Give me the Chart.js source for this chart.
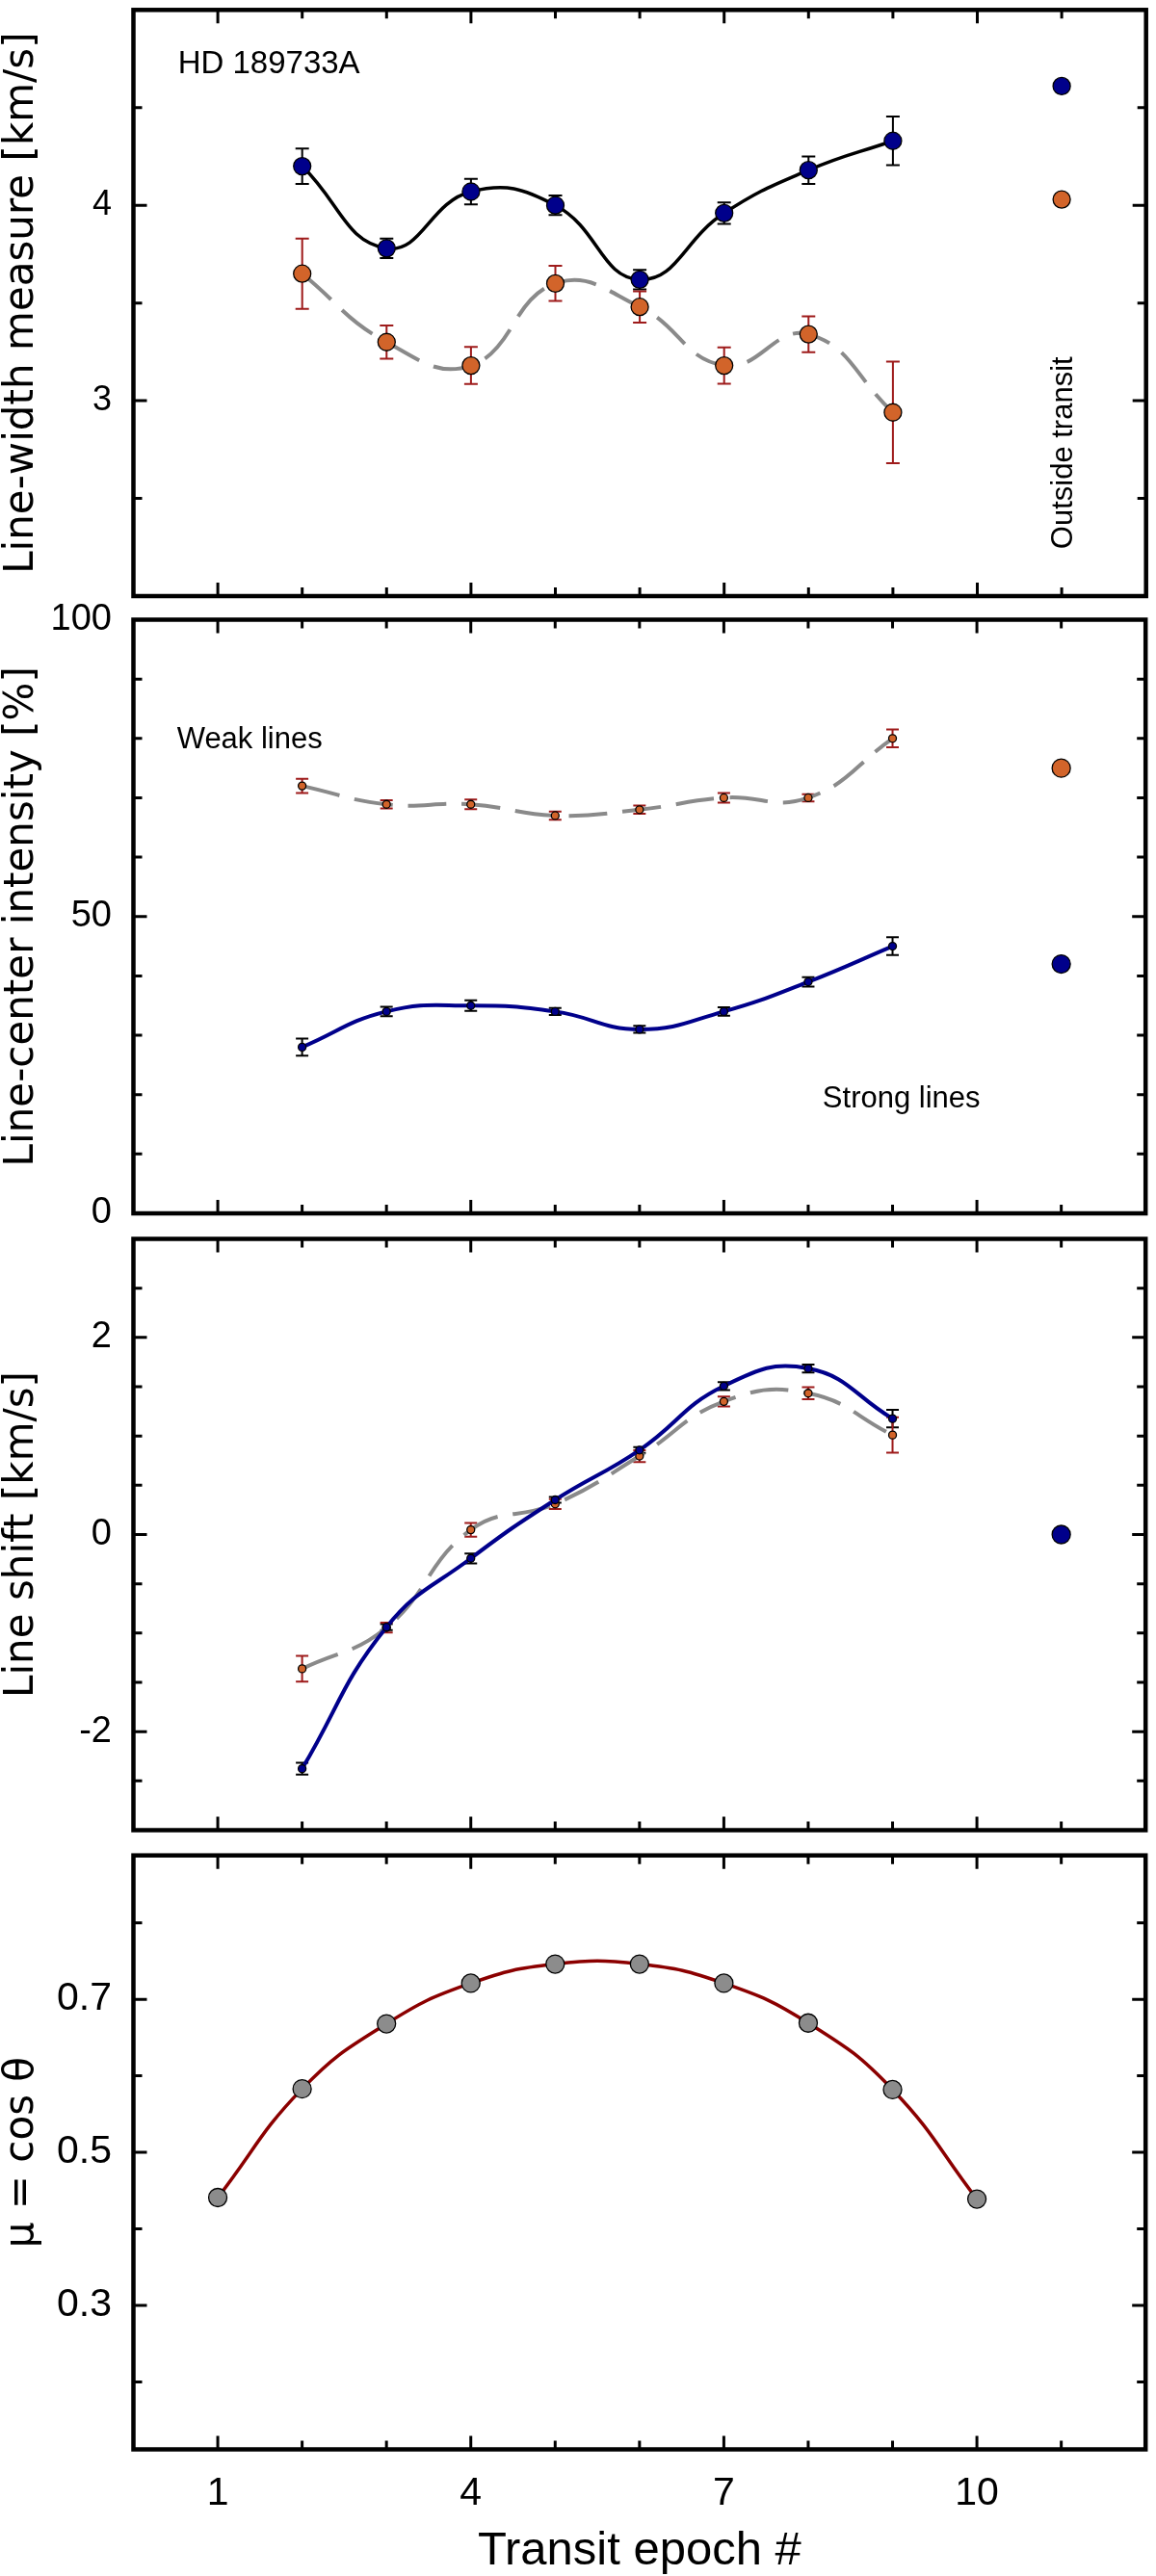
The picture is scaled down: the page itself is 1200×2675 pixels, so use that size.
<!DOCTYPE html>
<html>
<head>
<meta charset="utf-8">
<script src="https://cdn.jsdelivr.net/npm/chart.js@4.4.1/dist/chart.umd.min.js"></script>
<style>
  body { margin: 0; background: #fff; width: 1200px; height: 2675px; position: relative; overflow: hidden; }
  .panel { position: absolute; left: 0; width: 1200px; }
</style>
</head>
<body>
<div class="panel" style="top:0;height:632px"><canvas id="width"></canvas></div>
<div class="panel" style="top:622px;height:650px"><canvas id="intensity"></canvas></div>
<div class="panel" style="top:1272px;height:640px"><canvas id="shift"></canvas></div>
<div class="panel" style="top:1910px;height:765px"><canvas id="mu"></canvas></div>
<script>
// transit epochs with measurements, and the "outside transit" slot
const epochs = [2, 3, 4, 5, 6, 7, 8, 9];
const outsideEpoch = [11];
const muEpochs = [1, 2, 3, 4, 5, 6, 7, 8, 9, 10];

// line-width measure [km/s]
const widthStrong = [4.20, 3.78, 4.07, 4.00, 3.62, 3.96, 4.18, 4.33];
const widthStrongErr = [0.09, 0.05, 0.065, 0.05, 0.05, 0.055, 0.07, 0.125];
const widthWeak = [3.65, 3.30, 3.18, 3.60, 3.48, 3.18, 3.34, 2.94];
const widthWeakErr = [0.18, 0.085, 0.095, 0.09, 0.08, 0.093, 0.092, 0.26];
const widthOutsideStrong = [4.61];
const widthOutsideWeak = [4.03];

// line-center intensity [%]
const intensityStrong = [28.0, 34.0, 35.0, 34.0, 31.0, 34.0, 39.0, 45.0];
const intensityStrongErr = [1.45, 0.8, 0.9, 0.6, 0.6, 0.7, 0.8, 1.5];
const intensityWeak = [72.0, 68.9, 68.9, 67.0, 68.0, 70.0, 70.0, 80.0];
const intensityWeakErr = [1.2, 0.7, 0.8, 0.7, 0.7, 0.8, 0.6, 1.5];
const intensityOutsideStrong = [42.0];
const intensityOutsideWeak = [75.0];

// line shift [km/s]
const shiftStrong = [-2.376, -0.94, -0.242, 0.352, 0.857, 1.507, 1.685, 1.176];
const shiftStrongErr = [0.06, 0.03, 0.05, 0.03, 0.03, 0.04, 0.04, 0.09];
const shiftWeak = [-1.362, -0.945, 0.048, 0.31, 0.796, 1.35, 1.434, 1.01];
const shiftWeakErr = [0.13, 0.05, 0.07, 0.05, 0.06, 0.05, 0.06, 0.18];
const shiftOutsideStrong = [0.0];

// mu = cos theta
const mu = [0.441, 0.583, 0.668, 0.721, 0.746, 0.746, 0.721, 0.669, 0.582, 0.439];

// labelled ticks
const xTickLabels = [1, 4, 7, 10];
const widthTickLabels = [3, 4];
const intensityTickLabels = [0, 50, 100];
const shiftTickLabels = [-2, 0, 2];
const muTickLabels = [0.3, 0.5, 0.7];

const BLUE = '#00008b';
const ORANGE = '#d2642a';
const GREY = '#8a8a8a';
const ERR_RED = '#9e1b1b';
const SANS = '"Liberation Sans", Arial, sans-serif';

function pts(xs, ys) {
    return xs.map((x, i) => ({ x: x, y: ys[i] }));
}

function hasLabel(list, v) {
    return list.some(t => Math.abs(t - v) < 1e-6);
}

// error bars under the marks, inward ticks, frame and text on top
function makeFrame(yLabels, notes) {
    return {
        id: 'frame',
        beforeDatasetsDraw(chart) {
            const ctx = chart.ctx;
            const ys = chart.scales.y;
            chart.data.datasets.forEach((ds, i) => {
                if (!ds.errors) return;
                const meta = chart.getDatasetMeta(i);
                ctx.save();
                ctx.strokeStyle = ds.errorColor;
                ctx.lineWidth = 2;
                ctx.beginPath();
                meta.data.forEach((p, j) => {
                    const v = ds.data[j].y;
                    const e = ds.errors[j];
                    const y1 = ys.getPixelForValue(v - e);
                    const y2 = ys.getPixelForValue(v + e);
                    const c = ds.capHalf;
                    ctx.moveTo(p.x, y1); ctx.lineTo(p.x, y2);
                    ctx.moveTo(p.x - c, y1); ctx.lineTo(p.x + c, y1);
                    ctx.moveTo(p.x - c, y2); ctx.lineTo(p.x + c, y2);
                });
                ctx.stroke();
                ctx.restore();
            });
        },
        afterDraw(chart) {
            const ctx = chart.ctx;
            const a = chart.chartArea;
            const xs = chart.scales.x;
            const ys = chart.scales.y;
            ctx.save();
            notes.forEach(n => {
                ctx.save();
                ctx.font = n.size + 'px ' + SANS;
                ctx.fillStyle = '#000';
                ctx.translate(xs.getPixelForValue(n.x), ys.getPixelForValue(n.y));
                if (n.rotate) ctx.rotate(-Math.PI / 2);
                ctx.textAlign = n.rotate ? 'center' : 'left';
                ctx.textBaseline = 'alphabetic';
                ctx.fillText(n.text, 0, 0);
                ctx.restore();
            });
            ctx.strokeStyle = '#000';
            ctx.lineWidth = 3;
            ctx.beginPath();
            xs.ticks.forEach(t => {
                const px = xs.getPixelForValue(t.value);
                const len = hasLabel(xTickLabels, t.value) ? 14 : 9;
                ctx.moveTo(px, a.bottom); ctx.lineTo(px, a.bottom - len);
                ctx.moveTo(px, a.top); ctx.lineTo(px, a.top + len);
            });
            ys.ticks.forEach(t => {
                const py = ys.getPixelForValue(t.value);
                const len = hasLabel(yLabels, t.value) ? 14 : 9;
                ctx.moveTo(a.left, py); ctx.lineTo(a.left + len, py);
                ctx.moveTo(a.right, py); ctx.lineTo(a.right - len, py);
            });
            ctx.stroke();
            ctx.lineWidth = 4.5;
            ctx.strokeRect(a.left, a.top, a.right - a.left, a.bottom - a.top);
            ctx.restore();
        }
    };
}

function panel(id, o) {
    return new Chart(document.getElementById(id), {
        type: 'line',
        data: { datasets: o.datasets },
        plugins: [makeFrame(o.yLabels, o.notes || [])],
        options: {
            responsive: true,
            maintainAspectRatio: false,
            animation: false,
            devicePixelRatio: 1,
            layout: { padding: o.padding },
            plugins: { legend: { display: false }, tooltip: { enabled: false } },
            elements: { line: { tension: 0.45 } },
            scales: {
                x: {
                    type: 'linear', min: 0, max: 12,
                    grid: { display: false, drawTicks: false },
                    border: { display: false },
                    ticks: {
                        stepSize: 1, autoSkip: false, maxRotation: 0,
                        display: !!o.showX, padding: 21.6, color: '#000',
                        font: { family: SANS, size: 41 },
                        callback: v => hasLabel(xTickLabels, v) ? String(v) : ''
                    },
                    title: {
                        display: !!o.showX, text: 'Transit epoch #', color: '#000',
                        font: { family: SANS, size: 49, lineHeight: 1 },
                        padding: { top: 0, bottom: 0.8 }
                    },
                    afterFit: s => {
                        s.height = o.xHeight || 0;
                        s.paddingLeft = 0;
                        s.paddingRight = 0;
                    }
                },
                y: {
                    type: 'linear', min: o.yMin, max: o.yMax,
                    grid: { display: false, drawTicks: false },
                    border: { display: false },
                    ticks: {
                        stepSize: o.yStep, includeBounds: false, autoSkip: false,
                        padding: 22.5, color: '#000',
                        font: { family: SANS, size: o.tickSize },
                        callback: v => hasLabel(o.yLabels, v) ? String(o.yLabels.find(t => Math.abs(t - v) < 1e-6)) : ''
                    },
                    title: {
                        display: true, text: o.title, color: '#000',
                        font: { family: '"DejaVu Sans", sans-serif', size: 42, lineHeight: 1 },
                        padding: { top: 2, bottom: 0 }
                    },
                    afterFit: s => {
                        s.width = 138.5;
                        s.paddingTop = 0;
                        s.paddingBottom = 0;
                    }
                }
            }
        }
    });
}

function series(xs, ys, color, line, radius, dash, lineWidth) {
    return {
        data: pts(xs, ys),
        showLine: !!line,
        borderColor: line || color,
        borderWidth: line ? (lineWidth || 3.5) : 0,
        borderDash: dash || [],
        pointRadius: radius,
        pointBackgroundColor: color,
        pointBorderColor: '#000',
        pointBorderWidth: 1.3,
        fill: false
    };
}

function withErr(ds, errs, color, cap) {
    ds.errors = errs;
    ds.errorColor = color;
    ds.capHalf = cap;
    return ds;
}

panel('width', {
    padding: { top: 1, bottom: 13, left: 0, right: 3 },
    yMin: 2, yMax: 5, yStep: 0.5, yLabels: widthTickLabels, tickSize: 36,
    title: 'Line-width measure [km/s]',
    notes: [
        { text: 'HD 189733A', x: 0.527, y: 4.675, size: 33 },
        { text: 'Outside transit', x: 11.13, y: 2.733, size: 31, rotate: true }
    ],
    datasets: [
        series(outsideEpoch, widthOutsideStrong, BLUE, null, 9),
        series(outsideEpoch, widthOutsideWeak, ORANGE, null, 9),
        withErr(series(epochs, widthStrong, BLUE, '#000', 9, null, 3.5), widthStrongErr, '#000', 7),
        withErr(series(epochs, widthWeak, ORANGE, GREY, 9, [40, 16], 4), widthWeakErr, ERR_RED, 7)
    ]
});

panel('intensity', {
    padding: { top: 21.5, bottom: 12, left: 0, right: 3 },
    yMin: 0, yMax: 100, yStep: 10, yLabels: intensityTickLabels, tickSize: 38,
    title: 'Line-center intensity [%]',
    notes: [
        { text: 'Weak lines', x: 0.516, y: 78.3, size: 31 },
        { text: 'Strong lines', x: 8.17, y: 17.8, size: 31 }
    ],
    datasets: [
        series(outsideEpoch, intensityOutsideStrong, BLUE, null, 9.5),
        series(outsideEpoch, intensityOutsideWeak, ORANGE, null, 9.5),
        withErr(series(epochs, intensityStrong, BLUE, BLUE, 4, null, 4), intensityStrongErr, '#000', 6.5),
        withErr(series(epochs, intensityWeak, ORANGE, GREY, 4, [40, 16], 4), intensityWeakErr, ERR_RED, 6.5)
    ]
});

panel('shift', {
    padding: { top: 14.5, bottom: 11.5, left: 0, right: 3 },
    yMin: -3, yMax: 3, yStep: 0.5, yLabels: shiftTickLabels, tickSize: 38,
    title: 'Line shift [km/s]',
    datasets: [
        series(outsideEpoch, shiftOutsideStrong, BLUE, null, 9.5),
        withErr(series(epochs, shiftStrong, BLUE, BLUE, 4, null, 4), shiftStrongErr, '#000', 6.5),
        withErr(series(epochs, shiftWeak, ORANGE, GREY, 4, [40, 16], 4), shiftWeakErr, ERR_RED, 6.5)
    ]
});

panel('mu', {
    padding: { top: 16.7, bottom: 0, left: 0, right: 3 },
    yMin: 0.112, yMax: 0.888, yStep: 0.1, yLabels: muTickLabels, tickSize: 41,
    title: 'μ = cos θ',
    showX: true, xHeight: 131.5,
    datasets: [
        series(muEpochs, mu, '#8c8c8c', '#8b0000', 9.5, null, 3.5)
    ]
});
</script>
</body>
</html>
